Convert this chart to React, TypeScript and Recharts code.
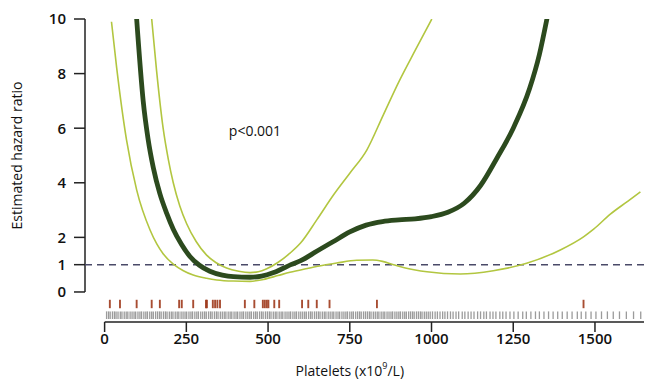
import React from 'react';
import { ComposedChart, Line, XAxis, YAxis, ReferenceLine, Scatter, ReferenceDot, Label } from 'recharts';

const xTicks = [0, 250, 500, 750, 1000, 1250, 1500];
const yTicks = [0, 1, 2, 4, 6, 8, 10];

const estimateX = [98, 118, 133, 149, 169, 190, 210, 235, 261, 290, 322, 360, 394, 445, 480, 515, 545, 570, 600, 650, 700, 750, 800, 850, 900, 950, 1000, 1050, 1100, 1150, 1200, 1250, 1300, 1330, 1353];
const estimateY = [10, 7.0, 5.6, 4.55, 3.6, 2.88, 2.3, 1.75, 1.3, 0.98, 0.76, 0.62, 0.56, 0.54, 0.58, 0.7, 0.86, 1.0, 1.15, 1.5, 1.85, 2.2, 2.45, 2.58, 2.64, 2.68, 2.76, 2.92, 3.25, 3.9, 4.9, 6.0, 7.45, 8.7, 10];

const upperX = [144, 159, 179, 195, 210, 230, 251, 280, 312, 340, 373, 410, 445, 470, 496, 530, 567, 600, 649, 700, 750, 802, 853, 900, 950, 1001];
const upperY = [10, 8.1, 6.0, 4.85, 4.0, 3.15, 2.5, 1.85, 1.35, 1.08, 0.88, 0.76, 0.71, 0.74, 0.85, 1.08, 1.42, 1.8, 2.64, 3.55, 4.35, 5.2, 6.5, 7.7, 8.85, 10];

const lowerX = [21, 37, 67, 98, 139, 160, 179, 210, 241, 271, 312, 343, 394, 445, 486, 530, 567, 620, 669, 710, 771, 820, 850, 884, 920, 986, 1088, 1189, 1291, 1394, 1465, 1496, 1547, 1600, 1639];
const lowerY = [9.9, 8.2, 5.57, 3.74, 2.27, 1.75, 1.4, 1.02, 0.78, 0.62, 0.5, 0.44, 0.4, 0.39, 0.46, 0.6, 0.72, 0.86, 0.98, 1.06, 1.16, 1.17, 1.12, 1.0, 0.88, 0.74, 0.66, 0.78, 1.05, 1.54, 2.02, 2.3, 2.85, 3.32, 3.67];

const eventPlatelets = [16, 47, 98, 144, 169, 228, 236, 271, 310, 313, 331, 338, 345, 353, 429, 458, 484, 490, 496, 501, 519, 534, 604, 623, 649, 688, 833, 1465];

const allPlatelets = [
  6, 12, 17, 24, 30, 35, 41, 48, 53, 60, 66, 71, 78, 84, 90, 95, 102, 108, 113, 120, 126, 131, 138, 144, 149, 156, 162, 168, 173, 180, 186, 191, 198,
  204, 209, 216, 222, 227, 234, 240, 246, 251, 258, 264, 269, 276, 282, 287, 294, 300, 306, 311, 318, 324, 329, 336, 342, 347, 354, 360, 366, 371, 378, 384, 389, 396,
  402, 407, 414, 420, 425, 432, 438, 444, 449, 456, 462, 467, 474, 480, 485, 492, 498, 504, 509, 516, 522, 527, 534, 540, 545, 552, 558, 564, 569, 576, 582, 587, 594,
  600, 606, 612, 617, 624, 630, 635, 642, 648, 654, 659, 666, 672, 677, 684, 690, 696, 701, 708, 714, 719, 726, 732, 738, 743, 750, 756, 761, 768, 774, 780, 785, 792,
  798, 804, 810, 815, 822, 828, 834, 839, 846, 852, 857, 864, 870, 876, 881, 888, 894, 900, 905, 912, 918, 923, 930, 936, 942, 947, 954, 960, 966, 971, 978, 984, 990, 996,
  1003, 1011, 1018, 1026, 1034, 1041, 1049, 1058, 1066, 1075, 1083, 1094, 1102, 1112, 1121, 1130, 1141, 1150, 1160, 1168, 1179, 1188, 1197, 1209, 1218, 1228, 1240,
  1252, 1265, 1279, 1290, 1304, 1318, 1330, 1344, 1358, 1372, 1386, 1400, 1415, 1430, 1446, 1458, 1472, 1488, 1503, 1520, 1538, 1556, 1575, 1596, 1618, 1640
];

const X_MIN = -60;
const X_MAX = 1650;
const Y_MIN = -1.1;
const Y_MAX = 10;
const EVENT_ROW = -0.44;
const ALL_ROW = -0.85;

const toPts = (xs: number[], ys: number[]) => xs.map((x, i) => ({ x, y: ys[i] }));
const estimateData = toPts(estimateX, estimateY);
const upperData = toPts(upperX, upperY);
const lowerData = toPts(lowerX, lowerY);
const eventData = eventPlatelets.map((x) => ({ x, y: EVENT_ROW }));
const allData = allPlatelets.map((x) => ({ x, y: ALL_ROW }));

const FONT = '"Open Sans", "Noto Sans", sans-serif';

const makeRug = (color: string, half: number, width: number, opacity: number) => (props: any) => (
  <line x1={props.cx} x2={props.cx} y1={props.cy - half} y2={props.cy + half} stroke={color} strokeWidth={width} strokeOpacity={opacity} />
);

const YTitle = (props: any) => {
  const vb = props.viewBox || { x: 0, y: 0, width: 0, height: 0 };
  const x = vb.x + 17;
  const y = vb.y + (vb.height * (Y_MAX - 5)) / (Y_MAX - Y_MIN);
  return (
    <text x={x} y={y} transform={`rotate(-90 ${x} ${y})`} textAnchor="middle" dominantBaseline="central" fontFamily={FONT} fontSize={14} fill="#111">
      Estimated hazard ratio
    </text>
  );
};

const XTitle = (props: any) => {
  const vb = props.viewBox || { x: 0, y: 0, width: 0, height: 0 };
  const x = vb.x + (vb.width * (750 - X_MIN)) / (X_MAX - X_MIN);
  const y = vb.y + 48;
  return (
    <text x={x} y={y} textAnchor="middle" dominantBaseline="central" fontFamily={FONT} fontSize={14} fill="#111">
      <tspan>Platelets (x10</tspan>
      <tspan dy={-5} fontSize={9}>9</tspan>
      <tspan dy={5}>/L)</tspan>
    </text>
  );
};

export default function App() {
  return (
    <div style={{ position: 'absolute', left: 0, top: 0, background: '#fff' }}>
      <ComposedChart width={648} height={382} margin={{ top: 19, right: 4, bottom: 0, left: 0 }}>
        <XAxis
          type="number"
          dataKey="x"
          domain={[X_MIN, X_MAX]}
          ticks={xTicks}
          allowDataOverflow
          axisLine={false}
          tickSize={10}
          tickMargin={1}
          tickLine={{ stroke: '#222', strokeWidth: 1.5 }}
          tick={{ fontFamily: FONT, fontSize: 15, fill: '#111', fontWeight: 600 }}
          height={60}
          label={<Label content={<XTitle />} />}
        />
        <YAxis
          type="number"
          dataKey="y"
          domain={[Y_MIN, Y_MAX]}
          ticks={yTicks}
          allowDataOverflow
          axisLine={false}
          tickSize={11}
          tickMargin={8}
          tickLine={{ stroke: '#222', strokeWidth: 1.5 }}
          tick={{ fontFamily: FONT, fontSize: 15, fill: '#111', fontWeight: 600 }}
          width={85}
          label={<Label content={<YTitle />} />}
        />
        <ReferenceLine segment={[{ x: X_MIN, y: 0 }, { x: X_MIN, y: Y_MAX }]} stroke="#222" strokeWidth={1.5} ifOverflow="visible" />
        <ReferenceLine segment={[{ x: 0, y: Y_MIN }, { x: X_MAX, y: Y_MIN }]} stroke="#222" strokeWidth={1.5} ifOverflow="visible" />
        <ReferenceLine y={1} stroke="#4a4a68" strokeWidth={1.6} strokeDasharray="7 5" />
        <Scatter data={allData} dataKey="y" isAnimationActive={false} shape={makeRug('#8a8a8a', 3.8, 1.3, 0.85)} />
        <Scatter data={eventData} dataKey="y" isAnimationActive={false} shape={makeRug('#9e3a1c', 4.2, 1.9, 0.9)} />
        <Line data={lowerData} dataKey="y" type="monotone" stroke="#b2c640" strokeWidth={1.6} dot={false} isAnimationActive={false} />
        <Line data={upperData} dataKey="y" type="monotone" stroke="#b2c640" strokeWidth={1.6} dot={false} isAnimationActive={false} />
        <Line data={estimateData} dataKey="y" type="monotone" stroke="#2c4a1e" strokeWidth={4.8} dot={false} isAnimationActive={false} strokeLinecap="round" />
        <ReferenceDot x={460} y={5.9} r={0} fill="none" stroke="none" label={{ value: 'p<0.001', position: 'center', fontFamily: FONT, fontSize: 14, fill: '#111' }} />
      </ComposedChart>
    </div>
  );
}
